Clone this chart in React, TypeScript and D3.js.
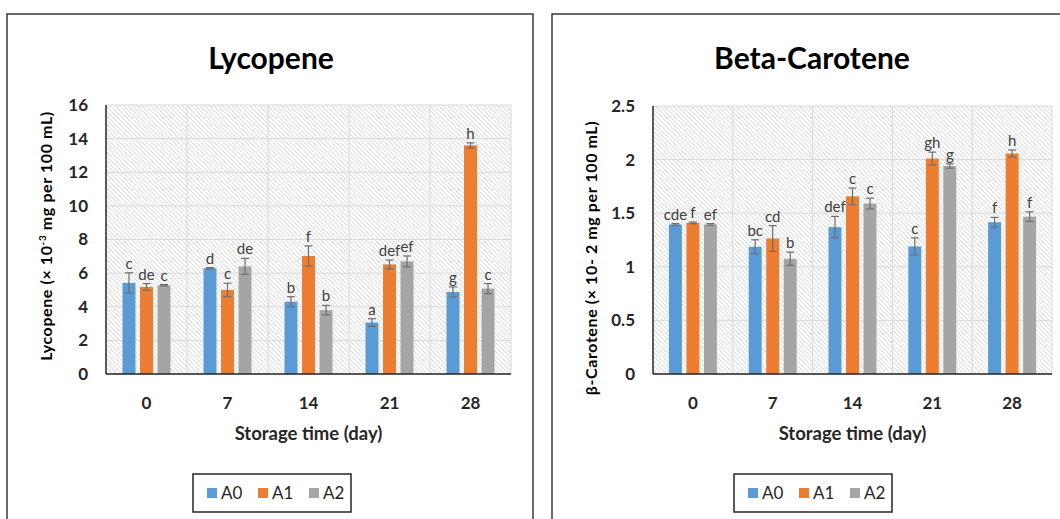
import { useEffect } from 'react';
import * as d3 from 'd3';

// storage days and treatments
const days = ['0', '7', '14', '21', '28'];
const series = ['A0', 'A1', 'A2'];
const colors = ['#5B9BD5', '#ED7D31', '#A5A5A5'];

// Lycopene (x10^-3 mg per 100 mL)
const lycA0 = [5.42, 6.29, 4.3, 3.06, 4.88];
const lycA1 = [5.18, 5.0, 7.02, 6.52, 13.6];
const lycA2 = [5.28, 6.4, 3.8, 6.7, 5.08];
const lycErrA0 = [0.6, 0.04, 0.3, 0.23, 0.3];
const lycErrA1 = [0.2, 0.4, 0.6, 0.26, 0.15];
const lycErrA2 = [0.04, 0.48, 0.28, 0.32, 0.3];
const lycLetters = [['c', 'de', 'c'], ['d', 'c', 'de'], ['b', 'f', 'b'], ['a', 'def', 'ef'], ['g', 'h', 'c']];
const lycTicks = [0, 2, 4, 6, 8, 10, 12, 14, 16];

// Beta-carotene (x10-2 mg per 100 mL)
const betaA0 = [1.395, 1.187, 1.37, 1.19, 1.416];
const betaA1 = [1.41, 1.264, 1.657, 2.01, 2.057];
const betaA2 = [1.395, 1.075, 1.59, 1.94, 1.468];
const betaErrA0 = [0.008, 0.065, 0.1, 0.08, 0.045];
const betaErrA1 = [0.008, 0.12, 0.078, 0.06, 0.033];
const betaErrA2 = [0.008, 0.062, 0.05, 0.02, 0.045];
const betaLetters = [['cde', 'f', 'ef'], ['bc', 'cd', 'b'], ['def', 'c', 'c'], ['c', 'gh', 'g'], ['f', 'h', 'f']];
const betaTicks = [0, 0.5, 1, 1.5, 2, 2.5];

const FONT = 'Lato, "Open Sans", sans-serif';
const DARK = '#262626';

interface PanelProps {
  id: string;
  title: string;
  yLabel: string;
  yLabelSup?: string;
  yLabelTail: string;
  values: number[][];
  errors: number[][];
  letters: string[][];
  ticks: number[];
  box: { x: number; y: number; w: number; h: number };
  plot: { left: number; right: number; top: number; bottom: number };
  titleX: number;
  yLabelX: number;
  yLabelY: number;
  legendX: number;
}

function Panel(p: PanelProps) {
  const x0 = d3.scaleBand<string>().domain(days).range([p.plot.left, p.plot.right]);
  const bw = x0.bandwidth();
  const x1 = d3
    .scaleBand<string>()
    .domain(series)
    .range([bw / 2 - 24, bw / 2 + 24])
    .paddingInner(0.26);
  const y = d3
    .scaleLinear()
    .domain([0, p.ticks[p.ticks.length - 1]])
    .range([p.plot.bottom, p.plot.top]);

  const midX = (p.plot.left + p.plot.right) / 2;

  return (
    <g>
      <defs>
        <pattern id={`hatch-${p.id}`} patternUnits="userSpaceOnUse" width={4.5} height={4.5}>
          <rect width={4.5} height={4.5} fill="#ffffff" />
          <path d="M-1,-1 L5.5,5.5 M-1,3.5 L1,5.5 M3.5,-1 L5.5,1" stroke="#c9c9c9" strokeWidth={0.9} />
        </pattern>
      </defs>
      <rect x={p.box.x} y={p.box.y} width={p.box.w} height={p.box.h} fill="#fff" stroke="#3a3a3a" strokeWidth={1.5} />
      <text x={p.titleX} y={69} textAnchor="middle" fontFamily={FONT} fontWeight={700} fontSize={30} fill="#000">
        {p.title}
      </text>

      {/* plot background */}
      <rect
        x={p.plot.left}
        y={p.plot.top}
        width={p.plot.right - p.plot.left}
        height={p.plot.bottom - p.plot.top}
        fill={`url(#hatch-${p.id})`}
      />
      {/* gridlines */}
      {p.ticks.map((t) => (
        <line key={`h${t}`} x1={p.plot.left} x2={p.plot.right} y1={y(t)} y2={y(t)} stroke="#d9d9d9" strokeWidth={1} />
      ))}
      {days.map((d) => (
        <line
          key={`v${d}`}
          x1={(x0(d) || 0) + bw}
          x2={(x0(d) || 0) + bw}
          y1={p.plot.top}
          y2={p.plot.bottom}
          stroke="#d9d9d9"
          strokeWidth={1}
        />
      ))}

      {/* bars */}
      {days.map((d, i) => (
        <g key={`g${d}`} transform={`translate(${x0(d)},0)`}>
          {series.map((s, j) => {
            const v = p.values[j][i];
            const e = p.errors[j][i];
            const bx = x1(s) || 0;
            const cx = bx + x1.bandwidth() / 2;
            return (
              <g key={s}>
                <rect x={bx} y={y(v)} width={x1.bandwidth()} height={y(0) - y(v)} fill={colors[j]} />
                <line x1={cx} x2={cx} y1={y(v + e)} y2={y(v - e)} stroke="#6e6e6e" strokeWidth={1.2} />
                <line x1={cx - 4} x2={cx + 4} y1={y(v + e)} y2={y(v + e)} stroke="#6e6e6e" strokeWidth={1.2} />
                <line x1={cx - 4} x2={cx + 4} y1={y(v - e)} y2={y(v - e)} stroke="#6e6e6e" strokeWidth={1.2} />
                <text
                  x={cx}
                  y={y(v + e) - 4}
                  textAnchor="middle"
                  fontFamily={FONT}
                  fontSize={15}
                  fill="#404040"
                >
                  {p.letters[i][j]}
                </text>
              </g>
            );
          })}
        </g>
      ))}

      {/* axes */}
      <line x1={p.plot.left} x2={p.plot.left} y1={p.plot.top} y2={p.plot.bottom} stroke={DARK} strokeWidth={1.5} />
      <line x1={p.plot.left} x2={p.plot.right} y1={p.plot.bottom} y2={p.plot.bottom} stroke={DARK} strokeWidth={1.5} />

      {p.ticks.map((t) => (
        <text
          key={`t${t}`}
          x={p.plot.left - 18}
          y={y(t)}
          dy="0.35em"
          textAnchor="end"
          fontFamily={FONT}
          fontWeight={700}
          fontSize={17}
          fill={DARK}
        >
          {String(t)}
        </text>
      ))}
      {days.map((d) => (
        <text
          key={`c${d}`}
          x={(x0(d) || 0) + bw / 2}
          y={409}
          textAnchor="middle"
          fontFamily={FONT}
          fontWeight={700}
          fontSize={17}
          fill={DARK}
        >
          {d}
        </text>
      ))}
      <text x={midX} y={440} textAnchor="middle" fontFamily={FONT} fontWeight={700} fontSize={18.5} fill={DARK}>
        Storage time (day)
      </text>
      <text
        transform={`translate(${p.yLabelX},${p.yLabelY}) rotate(-90)`}
        textAnchor="middle"
        fontFamily={FONT}
        fontWeight={700}
        fontSize={16}
        letterSpacing={0.6}
        fill="#000"
      >
        {p.yLabel}
        {p.yLabelSup && (
          <tspan dy={-6} fontSize={10}>
            {p.yLabelSup}
          </tspan>
        )}
        <tspan dy={p.yLabelSup ? 6 : 0}>{p.yLabelTail}</tspan>
      </text>

      {/* legend */}
      <g transform={`translate(${p.legendX},474)`}>
        <rect x={0} y={0} width={158} height={38} fill="#fff" stroke="#262626" strokeWidth={1.5} />
        {series.map((s, j) => (
          <g key={s} transform={`translate(${14 + j * 51},0)`}>
            <rect x={0} y={14} width={10} height={10} fill={colors[j]} />
            <text x={14} y={19} dy="0.36em" fontFamily={FONT} fontSize={17} fill={DARK}>
              {s}
            </text>
          </g>
        ))}
      </g>
    </g>
  );
}

export default function App() {
  useEffect(() => {
    document.body.style.margin = '0';
  }, []);

  return (
    <svg width={1060} height={519} style={{ display: 'block', background: '#fff' }}>
      <Panel
        id="lyc"
        title="Lycopene"
        yLabel="Lycopene  (× 10"
        yLabelSup="-3"
        yLabelTail="  mg per 100 mL)"
        values={[lycA0, lycA1, lycA2]}
        errors={[lycErrA0, lycErrA1, lycErrA2]}
        letters={lycLetters}
        ticks={lycTicks}
        box={{ x: 7, y: 14, w: 526, h: 520 }}
        plot={{ left: 106, right: 511, top: 105, bottom: 374 }}
        titleX={271}
        yLabelX={52}
        yLabelY={236}
        legendX={193}
      />
      <Panel
        id="beta"
        title="Beta-Carotene"
        yLabel="β-Carotene  (× 10- 2 mg per 100 mL)"
        yLabelTail=""
        values={[betaA0, betaA1, betaA2]}
        errors={[betaErrA0, betaErrA1, betaErrA2]}
        letters={betaLetters}
        ticks={betaTicks}
        box={{ x: 552, y: 14, w: 520, h: 520 }}
        plot={{ left: 653, right: 1052, top: 106, bottom: 374 }}
        titleX={812}
        yLabelX={597}
        yLabelY={258}
        legendX={734}
      />
    </svg>
  );
}
